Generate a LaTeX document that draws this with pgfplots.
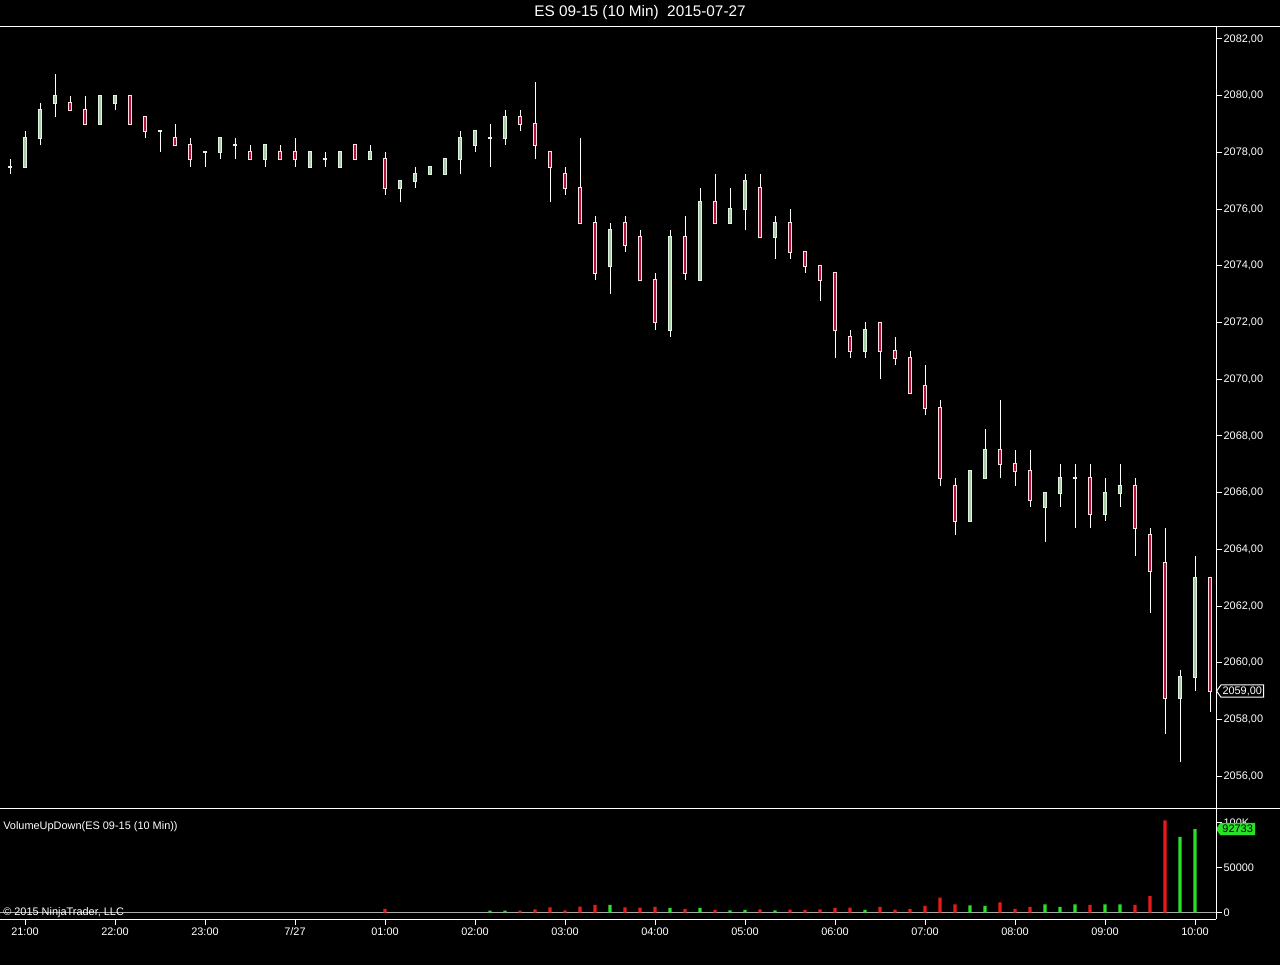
\documentclass[border=0pt]{standalone}
\usepackage{fontspec}
\setmainfont{Liberation Sans}
\usepackage{pgfplots}
\usepackage{pgfplotstable}
\pgfplotsset{compat=1.18}
\usetikzlibrary{shapes.symbols}
\definecolor{upfill}{RGB}{165,205,165}
\definecolor{upline}{RGB}{228,242,228}
\definecolor{dnfill}{RGB}{175,20,55}
\definecolor{dnline}{RGB}{252,222,230}
\definecolor{vred}{RGB}{235,25,25}
\definecolor{vgreen}{RGB}{40,225,40}
\definecolor{zgray}{RGB}{170,170,170}
\newcommand{\tf}{\fontsize{8.2}{9.8}\selectfont}
% rising candles (and dojis): index open high low close
\pgfplotstableread{
i O H L C
0 2077.5 2077.75 2077.25 2077.5
1 2077.5 2078.75 2077.5 2078.5
2 2078.5 2079.75 2078.25 2079.5
3 2079.75 2080.75 2079.25 2080
6 2079 2080 2079 2080
7 2079.75 2080 2079.5 2080
10 2078.75 2078.75 2078 2078.75
13 2078 2078 2077.5 2078
14 2078 2078.5 2077.75 2078.5
15 2078.25 2078.5 2077.75 2078.25
17 2077.75 2078.25 2077.5 2078.25
20 2077.5 2078 2077.5 2078
21 2077.75 2078 2077.5 2077.75
22 2077.5 2078 2077.5 2078
24 2077.75 2078.25 2077.75 2078
26 2076.75 2077 2076.25 2077
27 2077 2077.5 2076.75 2077.25
28 2077.25 2077.5 2077.25 2077.5
29 2077.25 2077.75 2077.25 2077.75
30 2077.75 2078.75 2077.25 2078.5
31 2078.25 2078.75 2078 2078.75
32 2078.5 2079 2077.5 2078.5
33 2078.5 2079.5 2078.25 2079.25
40 2074 2075.5 2073 2075.25
44 2071.75 2075.25 2071.5 2075
46 2073.5 2076.75 2073.5 2076.25
48 2075.5 2076.75 2075.5 2076
49 2076 2077.25 2075.25 2077
51 2075 2075.75 2074.25 2075.5
57 2071 2072 2070.75 2071.75
64 2065 2066.75 2065 2066.75
65 2066.5 2068.25 2066.5 2067.5
69 2065.5 2066 2064.25 2066
70 2066 2067 2065.5 2066.5
71 2066.5 2067 2064.75 2066.5
73 2065.25 2066.5 2065 2066
74 2066 2067 2065.5 2066.25
78 2058.75 2059.75 2056.5 2059.5
79 2059.5 2063.75 2059 2063
}\upc
% falling candles: index open high low close
\pgfplotstableread{
i O H L C
4 2079.75 2080 2079.5 2079.5
5 2079.5 2080 2079 2079
8 2080 2080 2079 2079
9 2079.25 2079.25 2078.5 2078.75
11 2078.5 2079 2078.25 2078.25
12 2078.25 2078.5 2077.5 2077.75
16 2078 2078.25 2077.75 2077.75
18 2078 2078.25 2077.75 2077.75
19 2078 2078.5 2077.5 2077.75
23 2078.25 2078.25 2077.75 2077.75
25 2077.75 2078 2076.5 2076.75
34 2079.25 2079.5 2078.75 2079
35 2079 2080.5 2077.75 2078.25
36 2078 2078 2076.25 2077.5
37 2077.25 2077.5 2076.5 2076.75
38 2076.75 2078.5 2075.5 2075.5
39 2075.5 2075.75 2073.5 2073.75
41 2075.5 2075.75 2074.5 2074.75
42 2075 2075.25 2073.5 2073.5
43 2073.5 2073.75 2071.75 2072
45 2075 2075.75 2073.5 2073.75
47 2076.25 2077.25 2075.5 2075.5
50 2076.75 2077.25 2075 2075
52 2075.5 2076 2074.25 2074.5
53 2074.5 2074.5 2073.75 2074
54 2074 2074 2072.75 2073.5
55 2073.75 2073.75 2070.75 2071.75
56 2071.5 2071.75 2070.75 2071
58 2072 2072 2070 2071
59 2071 2071.5 2070.5 2070.75
60 2070.75 2071 2069.5 2069.5
61 2069.75 2070.5 2068.75 2069
62 2069 2069.25 2066.25 2066.5
63 2066.25 2066.5 2064.5 2065
66 2067.5 2069.25 2066.5 2067
67 2067 2067.5 2066.25 2066.75
68 2066.75 2067.5 2065.5 2065.75
72 2066.5 2067 2064.75 2065.25
75 2066.25 2066.5 2063.75 2064.75
76 2064.5 2064.75 2061.75 2063.25
77 2063.5 2064.75 2057.5 2058.75
80 2063 2063 2058.25 2059
}\dnc
\pgfplotstableread{
i v
25 4000
34 2200
35 3600
36 5800
37 2500
38 6600
39 8400
41 5800
42 5500
43 6200
45 4000
47 2900
50 3600
52 3300
53 2900
54 3600
55 5100
56 5500
58 6200
59 3300
60 4000
61 7300
62 16500
63 9100
66 11300
67 4000
68 6200
72 8400
75 8400
76 18300
77 102500
}\vdn
\pgfplotstableread{
i v
32 2200
33 2200
40 8400
44 5100
46 5100
48 2500
49 2900
51 2500
57 2900
64 8000
65 7300
69 9100
70 6200
71 9100
73 9100
74 9100
78 83900
79 92733
}\vup
\pgfplotsset{
  wick/.style={draw=none, mark=none, forget plot, error bars/.cd, y dir=plus, y explicit,
     error mark=none, error bar style={white, line width=0.75pt}},
  bodyout/.style={draw=none, mark=none, forget plot, error bars/.cd, y dir=plus, y explicit,
     error mark=none, error bar style={#1, line width=2.7pt}},
  bodyin/.style={draw=none, mark=none, forget plot, error bars/.cd, y dir=plus, y explicit,
     error mark=none, error bar style={#1, line width=1.2pt}},
}
\begin{document}
\begin{tikzpicture}[x=0.75pt,y=0.75pt]
\fill[black] (0,0) rectangle (1280,965);
% ---------------- price panel ----------------
\begin{axis}[at={(0pt,117.75pt)}, anchor=south west,
  width=912pt, height=585.75pt, scale only axis,
  xmin=-0.6667, xmax=80.4, ymin=2054.8748, ymax=2082.4233,
  axis line style={draw=none}, clip=false,
  xtick=\empty,
  ytick={2056,2058,...,2082}, ytick pos=right, yticklabel pos=right,
  tick align=outside, major tick length=4.5pt,
  tick style={white, line width=0.75pt},
  /pgf/number format/assume math mode=true,
  yticklabel style={white, font=\tf, inner sep=1pt,
    /pgf/number format/.cd, fixed, fixed zerofill, precision=2, use comma, 1000 sep={}},
]
% wicks
\addplot[wick] table[x=i, y=L, y error plus expr=\thisrow{H}-\thisrow{L}] {\upc};
\addplot[wick] table[x=i, y=L, y error plus expr=\thisrow{H}-\thisrow{L}] {\dnc};
% bodies: light outline then coloured core
\addplot[bodyout=upline] table[x=i, y expr=\thisrow{O}-0.035, y error plus expr=\thisrow{C}-\thisrow{O}+0.07] {\upc};
\addplot[bodyout=dnline] table[x=i, y expr=\thisrow{C}-0.035, y error plus expr=\thisrow{O}-\thisrow{C}+0.07] {\dnc};
\addplot[bodyin=upfill] table[x=i, y=O, y error plus expr=\thisrow{C}-\thisrow{O}] {\upc};
\addplot[bodyin=dnfill] table[x=i, y=C, y error plus expr=\thisrow{O}-\thisrow{C}] {\dnc};
\node[signal, signal to=west, signal pointer angle=110, draw=white, fill=black, text=white,
  font=\tf, inner sep=1.2pt, anchor=west, line width=0.75pt] at (axis cs:80.4,2059) {2059,00};
\end{axis}
% ---------------- volume panel ----------------
\begin{axis}[at={(0pt,34.5pt)}, anchor=south west,
  width=912pt, height=83.25pt, scale only axis,
  xmin=-0.6667, xmax=80.4, ymin=-7222, ymax=116111,
  axis line style={draw=none}, clip=false,
  xtick={1,7,13,19,25,31,37,43,49,55,61,67,73,79},
  xticklabels={21:00,22:00,23:00,7/27,01:00,02:00,03:00,04:00,05:00,06:00,07:00,08:00,09:00,10:00},
  xtick pos=left, xticklabel pos=left,
  ytick={0,50000,100000}, yticklabels={0,50000,100K},
  ytick pos=right, yticklabel pos=right,
  tick align=outside, major tick length=4.5pt,
  tick style={white, line width=0.75pt},
  tick label style={white, font=\tf, inner sep=1pt},
  xticklabel style={yshift=-1pt},
  scaled y ticks=false,
]
\addplot[zgray, line width=0.75pt] coordinates {(-0.6667,0) (80.4,0)};
\addplot[ybar, bar width=2.3pt, bar shift=0pt, fill=vred, draw=none] table[x=i, y=v] {\vdn};
\addplot[ybar, bar width=2.3pt, bar shift=0pt, fill=vgreen, draw=none] table[x=i, y=v] {\vup};
\node[signal, signal to=west, signal pointer angle=110, draw=vgreen, fill=vgreen, text=black,
  font=\tf, inner sep=1.5pt, anchor=west] at (axis cs:80.4,92733) {92733};
\end{axis}
% ---------------- frame lines and texts ----------------
\draw[white, line width=0.75pt] (0,938) -- (1280,938);
\draw[white, line width=0.75pt] (0,157) -- (1280,157);
\draw[white, line width=0.75pt] (1216,938) -- (1216,46);
\draw[white, line width=0.75pt] (0,46) -- (1216,46);
\node[white, font=\fontsize{11.5}{13}\selectfont] at (640,952) {ES 09-15 (10 Min)\ \ 2015-07-27};
\node[white, font=\tf, anchor=west, inner sep=0pt] at (3,138) {VolumeUpDown(ES 09-15 (10 Min))};
\node[white, font=\tf, anchor=west, inner sep=0pt] at (3,52) {© 2015 NinjaTrader, LLC};
\pgfresetboundingbox
\useasboundingbox (0,0) rectangle (1280,965);
\end{tikzpicture}
\end{document}
